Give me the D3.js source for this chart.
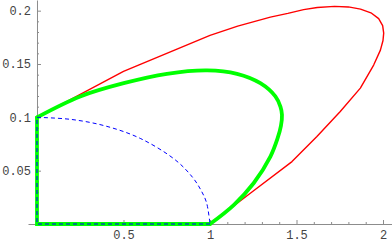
<!DOCTYPE html>
<html>
<head>
<meta charset="utf-8">
<script src="https://cdn.jsdelivr.net/npm/d3@7"></script>
<style>
  body { margin: 0; background: #fff; }
  svg { display: block; }
  .axis text { font-family: "Liberation Mono", "DejaVu Sans Mono", monospace; font-size: 12px; fill: #444; }
  .axis path, .axis line { stroke: #8c8c8c; }
</style>
</head>
<body>
<svg id="chart" width="392" height="242"></svg>
<script>
// ticks
const xMajor = [0.5, 1, 1.5, 2];
const yMajor = [0.05, 0.1, 0.15, 0.2];
const xMinor = [0.1, 0.2, 0.3, 0.4, 0.6, 0.7, 0.8, 0.9, 1.1, 1.2, 1.3, 1.4, 1.6, 1.7, 1.8, 1.9];
const yMinor = [0.01, 0.02, 0.03, 0.04, 0.06, 0.07, 0.08, 0.09, 0.11, 0.12, 0.13, 0.14, 0.16, 0.17, 0.18, 0.19];

// red curve
const redX = [1.0, 1.233, 1.474, 1.618, 1.753, 1.869, 1.946, 1.985, 2.0, 2.004, 1.998, 1.975, 1.93, 1.87, 1.8, 1.72, 1.62, 1.541, 1.45, 1.349, 1.16, 1.0, 0.5, 0];
const redY = [0, 0.0288, 0.0585, 0.082, 0.1055, 0.1274, 0.149, 0.163, 0.172, 0.179, 0.186, 0.1925, 0.198, 0.2015, 0.2035, 0.204, 0.203, 0.201, 0.1975, 0.194, 0.1855, 0.1768, 0.143, 0.1];

// green curve
const greenX = [0, 0.25, 0.501, 0.751, 0.983, 1.156, 1.291, 1.378, 1.407, 1.416, 1.41, 1.39, 1.349, 1.252, 1.137, 1.0];
const greenY = [0.1, 0.1196, 0.132, 0.1408, 0.144, 0.1408, 0.132, 0.1196, 0.11, 0.1023, 0.092, 0.08, 0.0632, 0.0382, 0.0178, 0];
const greenLegX = [1, 0, 0];
const greenLegY = [0, 0, 0.1];

// blue dashed curve
const blueX = [0, 0.2, 0.4, 0.6, 0.8, 0.9, 0.95, 0.98, 1.0];
const blueY = [0.1, 0.098, 0.0917, 0.08, 0.06, 0.0436, 0.031, 0.02, 0];
const blueLegX = [1, 0, 0];
const blueLegY = [0, 0, 0.1];

const svg = d3.select("#chart");

const x = d3.scaleLinear().domain([-0.052, 2.052]).range([28, 392]);
const y = d3.scaleLinear().domain([0, 0.21]).range([224, 0]);

// axes
svg.append("g").attr("class", "axis")
    .attr("transform", "translate(0," + y(0) + ")")
    .call(d3.axisBottom(x).tickValues(xMinor).tickSize(-2).tickFormat(""))
    .call(g => g.select(".domain").remove());
svg.append("g").attr("class", "axis")
    .attr("transform", "translate(0," + y(0) + ")")
    .call(d3.axisBottom(x).tickValues(xMajor).tickSize(-4).tickSizeOuter(0).tickPadding(6).tickFormat(d3.format("")))
    .call(g => g.select(".domain").attr("stroke", "#8c8c8c"));

svg.append("g").attr("class", "axis")
    .attr("transform", "translate(" + x(0) + ",0)")
    .call(d3.axisLeft(y).tickValues(yMinor).tickSize(-2).tickFormat(""))
    .call(g => g.select(".domain").remove());
svg.append("g").attr("class", "axis")
    .attr("transform", "translate(" + x(0) + ",0)")
    .call(d3.axisLeft(y).tickValues(yMajor).tickSize(-4).tickSizeOuter(0).tickPadding(6).tickFormat(d3.format("")));

const pts = (xs, ys) => xs.map((v, i) => [v, ys[i]]);
const lin = d3.line().x(d => x(d[0])).y(d => y(d[1]));
const smooth = d3.line().x(d => x(d[0])).y(d => y(d[1])).curve(d3.curveCatmullRom);

// red
svg.append("path")
    .attr("d", lin(pts(redX, redY)))
    .attr("fill", "none")
    .attr("stroke", "#ff0000")
    .attr("stroke-width", 1.4)
    .attr("stroke-linejoin", "round");

// green
svg.append("path")
    .attr("d", smooth(pts(greenX, greenY)))
    .attr("fill", "none")
    .attr("stroke", "#00ff00")
    .attr("stroke-width", 3.8)
    .attr("stroke-linecap", "round");
svg.append("path")
    .attr("d", lin(pts(greenLegX, greenLegY)))
    .attr("fill", "none")
    .attr("stroke", "#00ff00")
    .attr("stroke-width", 3.8)
    .attr("stroke-linecap", "round");

// blue dashed
svg.append("path")
    .attr("d", smooth(pts(blueX, blueY)))
    .attr("fill", "none")
    .attr("stroke", "#0000ff")
    .attr("stroke-width", 1)
    .attr("stroke-dasharray", "4,3");
svg.append("path")
    .attr("d", lin(pts(blueLegX, blueLegY)))
    .attr("fill", "none")
    .attr("stroke", "#0000ff")
    .attr("stroke-width", 1)
    .attr("stroke-dasharray", "4,3");
</script>
</body>
</html>
